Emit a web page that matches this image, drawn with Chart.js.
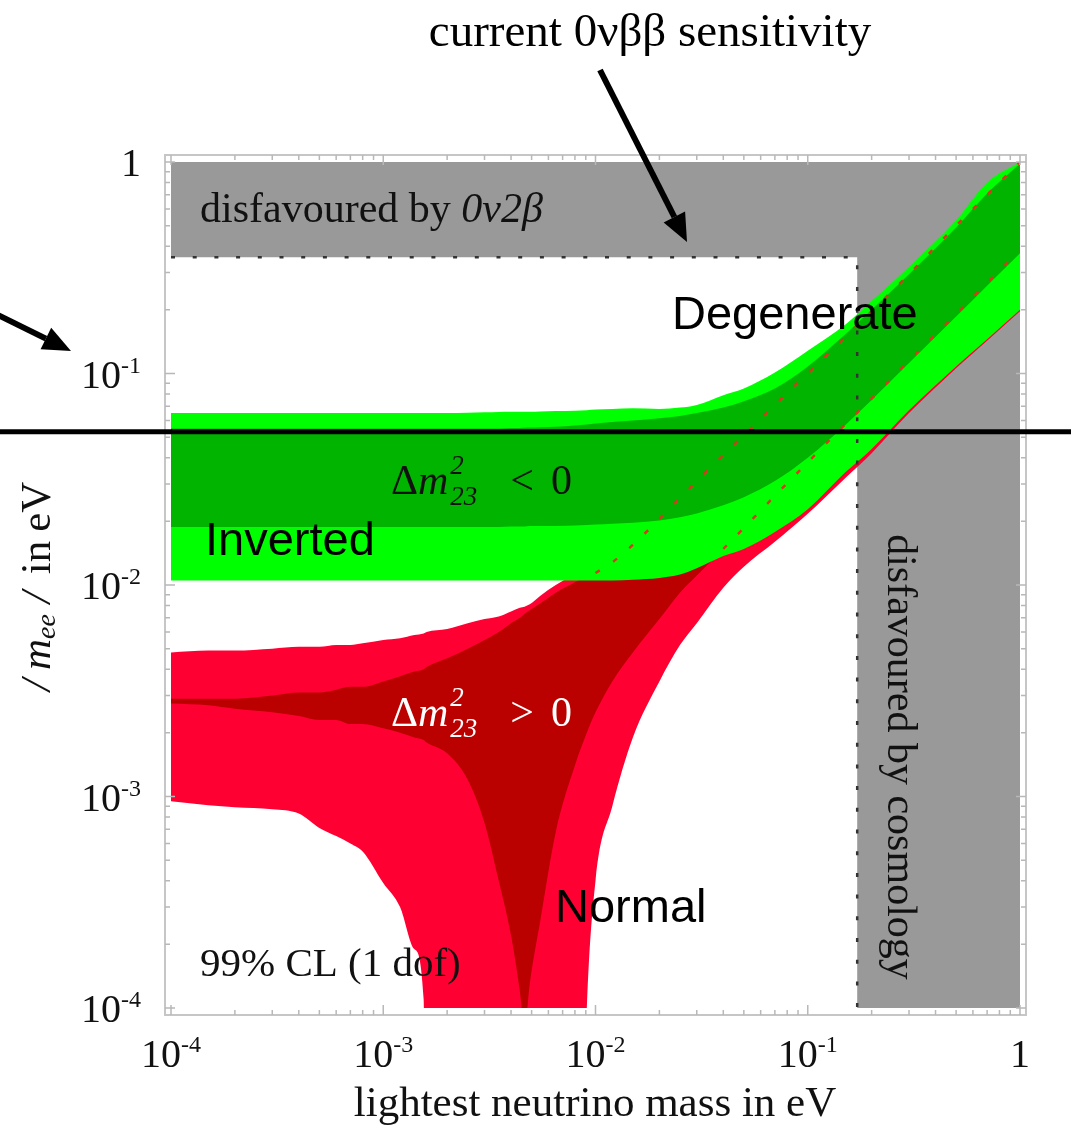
<!DOCTYPE html>
<html>
<head>
<meta charset="utf-8">
<script src="https://cdn.jsdelivr.net/npm/chart.js@4.4.0/dist/chart.umd.min.js"></script>
<style>
  html, body { margin: 0; padding: 0; background: #fff; }
</style>
</head>
<body>
<canvas id="meeChart" width="1071" height="1126"></canvas>
<script>
// lightest neutrino mass grid (eV), shared by every band boundary
const lightestMass = [1e-4, 1.5e-4, 2e-4, 3e-4, 4e-4, 5e-4, 6e-4, 7e-4, 8e-4, 1e-3,
  1.2e-3, 1.4e-3, 1.55e-3, 1.6e-3, 2e-3, 2.5e-3, 3e-3, 3.5e-3, 4e-3, 4.4e-3,
  4.63e-3, 4.9e-3, 5.5e-3, 6.5e-3, 8e-3, 9.1e-3, 0.01, 0.012, 0.015, 0.02,
  0.025, 0.03, 0.04, 0.05, 0.07, 0.1, 0.15, 0.2, 0.3, 0.5, 0.7, 1];

// inverted hierarchy (dm23^2 < 0): 99% CL band and best-fit band
const invertedOuterUpper = [0.065, 0.065, 0.065, 0.065, 0.065, 0.065, 0.065, 0.065, 0.065, 0.065,
  0.065, 0.065, 0.065, 0.065, 0.065, 0.0652, 0.0655, 0.0658, 0.066, 0.066,
  0.066, 0.066, 0.0662, 0.0664, 0.0667, 0.067, 0.0675, 0.068, 0.0685, 0.068,
  0.069, 0.071, 0.079, 0.085, 0.101, 0.128, 0.17, 0.22, 0.32, 0.53, 0.8, 1.0];
const invertedInnerUpper = [0.055, 0.055, 0.055, 0.055, 0.055, 0.055, 0.055, 0.055, 0.055, 0.055,
  0.055, 0.055, 0.055, 0.055, 0.055, 0.055, 0.055, 0.055, 0.0552, 0.0553,
  0.0554, 0.0555, 0.0557, 0.056, 0.0568, 0.0574, 0.058, 0.059, 0.06, 0.0615,
  0.063, 0.065, 0.069, 0.074, 0.085, 0.108, 0.153, 0.2, 0.295, 0.49, 0.71, 0.98];
const invertedInnerLower = [0.0188, 0.0188, 0.0188, 0.0188, 0.0188, 0.0188, 0.0188, 0.0188, 0.0188, 0.0188,
  0.0188, 0.0188, 0.0188, 0.0188, 0.0188, 0.0188, 0.0188, 0.0188, 0.0189, 0.0189,
  0.0189, 0.019, 0.019, 0.019, 0.0191, 0.0192, 0.0193, 0.0195, 0.0197, 0.0202,
  0.0209, 0.0218, 0.0238, 0.026, 0.031, 0.040, 0.057, 0.075, 0.112, 0.186, 0.26, 0.37];
const invertedOuterLower = [0.0105, 0.0105, 0.0105, 0.0105, 0.0105, 0.0105, 0.0105, 0.0105, 0.0105, 0.0105,
  0.0105, 0.0105, 0.0105, 0.0105, 0.0105, 0.0105, 0.0105, 0.0105, 0.0105, 0.0105,
  0.0105, 0.0105, 0.0105, 0.0105, 0.0105, 0.0105, 0.0105, 0.0105, 0.0106, 0.0108,
  0.0112, 0.012, 0.0137, 0.0148, 0.0178, 0.0228, 0.034, 0.044, 0.067, 0.108, 0.145, 0.2];

// normal hierarchy (dm23^2 > 0)
const normalOuterUpper = [0.0048, 0.0049, 0.0049, 0.005, 0.0051, 0.0051, 0.0052, 0.0052, 0.0053, 0.0055,
  0.0056, 0.0058, 0.0059, 0.006, 0.0062, 0.0066, 0.0069, 0.0071, 0.0075, 0.0078,
  0.0079, 0.0081, 0.0089, 0.0100, 0.0112, 0.0118, 0.0124, 0.0137, 0.016, 0.021,
  0.026, 0.031, 0.041, 0.053, 0.074, 0.105, 0.157, 0.21, 0.31, 0.52, 0.74, 1.0];
const normalInnerUpper = [0.0029, 0.0029, 0.0029, 0.003, 0.0031, 0.0031, 0.0032, 0.0033, 0.0033, 0.0035,
  0.0037, 0.0039, 0.004, 0.0041, 0.0045, 0.005, 0.0055, 0.006, 0.0066, 0.007,
  0.0073, 0.0076, 0.0082, 0.0092, 0.0103, 0.011, 0.0114, 0.0128, 0.0155, 0.0205,
  0.0258, 0.031, 0.041, 0.051, 0.071, 0.1, 0.148, 0.197, 0.295, 0.5, 0.7, 1.0];
const normalInnerLower = [0.00275, 0.0027, 0.0026, 0.0025, 0.0024, 0.0023, 0.0023, 0.0022, 0.0022, 0.0021,
  0.002, 0.0019, 0.00185, 0.0018, 0.0016, 0.0012, 0.00075, 0.0004, 0.00022, 0.00012,
  0.00008, 0.00013, 0.00026, 0.00068, 0.0014, 0.002, 0.0025, 0.0035, 0.0048, 0.0069,
  0.0092, 0.0111, 0.0148, 0.0186, 0.0264, 0.038, 0.0575, 0.076, 0.115, 0.19, 0.268, 0.38];
const normalOuterLower = [0.00095, 0.00091, 0.00089, 0.00087, 0.00083, 0.00071, 0.00065, 0.0006, 0.00055, 0.00039,
  0.0003, 0.00019, 0.00011, 0.000001, 0.000001, 0.000001, 0.000001, 0.000001, 0.000001, 0.000001,
  0.000001, 0.000001, 0.000001, 0.000001, 0.000001, 0.0001, 0.0004, 0.0009, 0.0019, 0.0035,
  0.0052, 0.0066, 0.0097, 0.0122, 0.016, 0.0217, 0.032, 0.042, 0.065, 0.106, 0.143, 0.197];

// excluded regions: 0v2b bound (top) and cosmology bound (right)
const excludedMass = [1e-4, 0.171, 0.171, 1];
const excludedMee = [0.355, 0.355, 0.000001, 0.000001];
const sensitivityMee = 0.053;

// axis ticks
const decadeTicks = [1e-4, 1e-3, 1e-2, 1e-1, 1];
const decadeExponents = ['-4', '-3', '-2', '-1', ''];

const SERIF = '"Liberation Serif", "Times New Roman", serif';
const SANS = '"Liberation Sans", Arial, sans-serif';
const serif = (size, style = '') => `${style} ${size}px ${SERIF}`.trim();

const pts = (xs, ys) => xs.map((v, i) => ({ x: v, y: ys[i] }));

// bands: drawn in array order, bottom first
const datasets = [
  { data: pts(excludedMass, excludedMee), fill: 'end', backgroundColor: '#999999', borderWidth: 0 },
  { data: pts(lightestMass, normalOuterUpper), fill: 2, backgroundColor: '#ff0033', borderWidth: 0, smooth: true },
  { data: pts(lightestMass, normalOuterLower), fill: false, borderWidth: 0, smooth: true },
  { data: pts(lightestMass, normalInnerUpper), fill: 4, backgroundColor: '#bb0000', borderWidth: 0, smooth: true },
  { data: pts(lightestMass, normalInnerLower), fill: false, borderWidth: 0, smooth: true },
  { data: pts(lightestMass, invertedOuterUpper), fill: 6, backgroundColor: '#00ff00', borderWidth: 0, smooth: true },
  { data: pts(lightestMass, invertedOuterLower), fill: false, borderWidth: 0, smooth: true },
  { data: pts(lightestMass, invertedInnerUpper), fill: 8, backgroundColor: '#00b400', borderWidth: 0, smooth: true },
  { data: pts(lightestMass, invertedInnerLower), fill: false, borderWidth: 0, smooth: true },
  // normal-hierarchy edges continuing under the green band
  { data: pts(lightestMass.slice(26), normalInnerUpper.slice(26)), fill: false,
    borderColor: '#d23c1e', borderWidth: 2.5, borderDash: [5, 16], smooth: true },
  { data: pts(lightestMass.slice(32), normalInnerLower.slice(32)), fill: false,
    borderColor: '#d23c1e', borderWidth: 2.5, borderDash: [5, 16], smooth: true },
  // dotted edge of the excluded regions
  { data: pts(excludedMass, excludedMee), fill: false,
    borderColor: '#333333', borderWidth: 2.5, borderDash: [4, 17.7] }
];
datasets.forEach((d, i) => {
  d.order = datasets.length - i;
  d.pointRadius = 0;
  if (d.smooth) d.cubicInterpolationMode = 'monotone';
  delete d.smooth;
  if (!d.borderColor) d.borderColor = 'rgba(0,0,0,0)';
});

function drawRich(ctx, x, y, parts, align = 'left') {
  let total = 0;
  parts.forEach(p => {
    ctx.font = p.font;
    p.w = ctx.measureText(p.text).width;
    total += (p.dx || 0) + (p.stack ? 0 : p.w);
  });
  let cx = align === 'center' ? x - total / 2 : align === 'right' ? x - total : x;
  ctx.textAlign = 'left';
  ctx.textBaseline = 'alphabetic';
  parts.forEach(p => {
    cx += p.dx || 0;
    ctx.font = p.font;
    ctx.fillText(p.text, cx, y + (p.dy || 0));
    if (!p.stack) cx += p.w;
  });
}

function arrow(ctx, x0, y0, x1, y1, width, headLen, headW) {
  const a = Math.atan2(y1 - y0, x1 - x0);
  const bx = x1 - headLen * Math.cos(a), by = y1 - headLen * Math.sin(a);
  ctx.lineWidth = width;
  ctx.beginPath(); ctx.moveTo(x0, y0); ctx.lineTo(bx, by); ctx.stroke();
  ctx.beginPath(); ctx.moveTo(x1, y1);
  ctx.lineTo(bx + headW * Math.sin(a), by - headW * Math.cos(a));
  ctx.lineTo(bx - headW * Math.sin(a), by + headW * Math.cos(a));
  ctx.closePath(); ctx.fill();
}

function dmParts(sign) {
  return [
    { text: '\u0394', font: serif(42) },
    { text: 'm', font: serif(42, 'italic') },
    { text: '2', font: serif(27, 'italic'), dy: -20, dx: 2, stack: true },
    { text: '23', font: serif(27, 'italic'), dy: 11, dx: 0 },
    { text: sign, font: serif(42), dx: 33 },
    { text: '0', font: serif(42), dx: 17 }
  ];
}

const annotations = {
  id: 'annotations',
  beforeDraw(chart) {
    const ctx = chart.ctx;
    ctx.save();
    ctx.fillStyle = '#fff';
    ctx.fillRect(0, 0, chart.width, chart.height);
    ctx.restore();
  },
  afterDraw(chart) {
    const { ctx, chartArea: a, scales: { x, y } } = chart;
    ctx.save();

    // Mathematica-style frame with inward ticks
    const fl = a.left - 6, fr = a.right + 6, ft = a.top - 7, fb = a.bottom + 7;
    ctx.strokeStyle = '#c6c6c6';
    ctx.lineWidth = 2;
    ctx.strokeRect(fl, ft, fr - fl, fb - ft);
    ctx.lineWidth = 1.5;
    ctx.strokeStyle = '#b8b8b8';
    ctx.beginPath();
    for (let d = -4; d <= 0; d++) {
      for (let k = 1; k <= 9; k++) {
        const v = k * Math.pow(10, d);
        if (v > 1.0001) break;
        const len = k === 1 ? 10 : 5;
        const px = x.getPixelForValue(v), py = y.getPixelForValue(v);
        ctx.moveTo(px, ft); ctx.lineTo(px, ft + len);
        ctx.moveTo(px, fb); ctx.lineTo(px, fb - len);
        ctx.moveTo(fl, py); ctx.lineTo(fl + len, py);
        ctx.moveTo(fr, py); ctx.lineTo(fr - len, py);
      }
    }
    ctx.stroke();

    // tick labels
    ctx.fillStyle = '#111';
    decadeTicks.forEach((v, i) => {
      const exp = decadeExponents[i];
      const parts = exp
        ? [{ text: '10', font: serif(40) }, { text: exp, font: serif(24), dy: -15 }]
        : [{ text: '1', font: serif(40) }];
      drawRich(ctx, x.getPixelForValue(v), 1067, parts, 'center');
      drawRich(ctx, 141, y.getPixelForValue(v) + 14, parts, 'right');
    });

    // axis titles
    ctx.font = serif(43);
    ctx.textAlign = 'center';
    ctx.fillText('lightest neutrino mass in eV', 595, 1116);

    ctx.save();
    ctx.translate(50, 691);
    ctx.rotate(-Math.PI / 2);
    drawRich(ctx, 0, 0, [
      { text: '/', font: serif(43, 'italic') },
      { text: 'm', font: serif(43, 'italic'), dx: 9 },
      { text: 'ee', font: serif(28, 'italic'), dy: 5 },
      { text: '/', font: serif(43, 'italic'), dx: 11 },
      { text: 'in', font: serif(43), dx: 17 },
      { text: 'eV', font: serif(43), dx: 9 }
    ]);
    ctx.restore();

    // region labels
    drawRich(ctx, 200, 222, [
      { text: 'disfavoured by ', font: serif(42) },
      { text: '0\u03bd2\u03b2', font: serif(42, 'italic') }
    ]);
    ctx.save();
    ctx.translate(888, 757);
    ctx.rotate(Math.PI / 2);
    ctx.font = serif(42);
    ctx.textAlign = 'center';
    ctx.fillText('disfavoured by cosmology', 0, 0);
    ctx.restore();

    ctx.font = serif(41);
    ctx.textAlign = 'left';
    ctx.fillText('99% CL (1 dof)', 200, 976);

    ctx.font = `47px ${SANS}`;
    ctx.fillStyle = '#000';
    ctx.fillText('Degenerate', 672, 329);
    ctx.fillText('Inverted', 205, 555);
    ctx.fillText('Normal', 555, 922);

    ctx.fillStyle = '#111';
    drawRich(ctx, 391, 494, dmParts('<'));
    ctx.fillStyle = '#fff';
    drawRich(ctx, 391, 726, dmParts('>'));

    // current sensitivity line and pointers
    ctx.fillStyle = '#000';
    ctx.strokeStyle = '#000';
    ctx.font = serif(47);
    ctx.textAlign = 'center';
    ctx.fillText('current 0\u03bd\u03b2\u03b2 sensitivity', 650, 46);
    const sy = y.getPixelForValue(sensitivityMee);
    ctx.lineWidth = 5;
    ctx.beginPath(); ctx.moveTo(0, sy); ctx.lineTo(chart.width, sy); ctx.stroke();
    arrow(ctx, 600, 70, 687, 242, 6, 28, 12);
    arrow(ctx, -4, 314, 71, 351, 6, 28, 12);

    ctx.restore();
  }
};

new Chart(document.getElementById('meeChart'), {
  type: 'line',
  data: { datasets },
  options: {
    responsive: false,
    animation: false,
    events: [],
    layout: { padding: { left: 0, right: 51, top: 162, bottom: 0 } },
    scales: {
      x: {
        type: 'logarithmic', min: 1e-4, max: 1,
        ticks: { display: false }, grid: { display: false }, border: { display: false },
        afterFit(s) { s.height = 118; }
      },
      y: {
        type: 'logarithmic', min: 1e-4, max: 1,
        ticks: { display: false }, grid: { display: false }, border: { display: false },
        afterFit(s) { s.width = 171; }
      }
    },
    plugins: { legend: { display: false }, tooltip: { enabled: false } }
  },
  plugins: [annotations]
});
</script>
</body>
</html>
